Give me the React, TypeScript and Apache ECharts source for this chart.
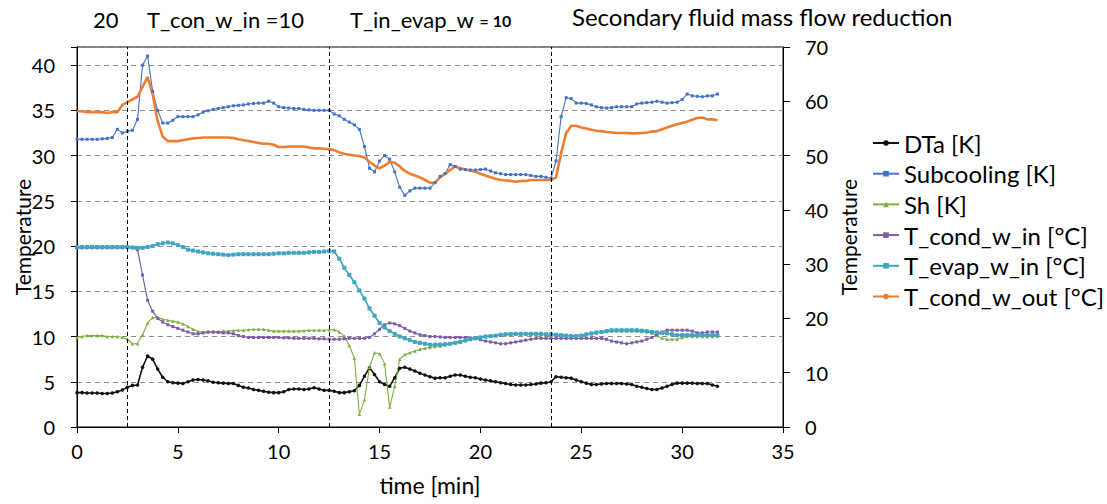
import React, { useEffect, useRef } from "react";
import * as echarts from "echarts";

// sampling grid (minutes)
const TIME: number[] = Array.from({ length: 128 }, (_, i) => i * 0.25);

const X_TICKS = [0, 5, 10, 15, 20, 25, 30, 35];
const STEP_TIMES = [2.5, 12.5, 23.5];

const SERIES_NAMES = [
  "DTa [K]",
  "Subcooling [K]",
  "Sh [K]",
  "T_cond_w_in [°C]",
  "T_evap_w_in [°C]",
  "T_cond_w_out [°C]",
];

const DTA = [
  3.8, 3.8, 3.75, 3.75, 3.75, 3.7, 3.7, 3.75,
  3.9, 4.1, 4.4, 4.6, 4.65, 6.6, 7.85, 7.5,
  6.4, 5.5, 5.0, 4.9, 4.85, 4.8, 5.0, 5.2,
  5.25, 5.2, 5.1, 4.95, 4.9, 4.85, 4.8, 4.8,
  4.6, 4.4, 4.3, 4.15, 4.05, 3.95, 3.85, 3.8,
  3.8, 3.9, 4.15, 4.2, 4.2, 4.15, 4.2, 4.35,
  4.2, 4.05, 4.05, 3.95, 3.8, 3.8, 3.9, 4.0,
  4.6, 5.6, 6.55, 5.8, 5.0, 4.7, 4.5, 5.45,
  6.5, 6.6, 6.4, 6.2, 5.95, 5.75, 5.55, 5.4,
  5.45, 5.45, 5.6, 5.75, 5.75, 5.6, 5.5, 5.45,
  5.3, 5.2, 5.1, 5.0, 4.9, 4.8, 4.7, 4.65,
  4.65, 4.65, 4.7, 4.75, 4.85, 4.9, 5.0, 5.55,
  5.5, 5.45, 5.4, 5.2, 5.0, 4.85, 4.7, 4.7,
  4.75, 4.8, 4.8, 4.8, 4.8, 4.75, 4.7, 4.5,
  4.4, 4.25, 4.15, 4.15, 4.3, 4.5, 4.7, 4.85,
  4.85, 4.85, 4.85, 4.8, 4.8, 4.8, 4.65, 4.5,
];

const SUBCOOLING = [
  31.8, 31.8, 31.8, 31.8, 31.8, 31.85, 31.9, 32.0,
  32.9, 32.5, 32.7, 32.8, 34.0, 40.0, 41.0, 37.1,
  35.0, 33.6, 33.6, 33.9, 34.3, 34.3, 34.3, 34.3,
  34.5, 34.8, 34.95, 35.1, 35.2, 35.3, 35.4, 35.5,
  35.55, 35.6, 35.7, 35.75, 35.8, 35.8, 36.0, 35.8,
  35.4, 35.3, 35.25, 35.2, 35.2, 35.1, 35.05, 35.0,
  35.0, 35.0, 35.0, 34.6, 34.4, 34.0, 33.7, 33.4,
  32.9, 31.0, 28.6, 28.2, 29.4, 30.0, 29.6, 28.2,
  26.5, 25.6, 26.1, 26.4, 26.4, 26.4, 26.4, 27.0,
  27.7, 28.0, 29.0, 28.8, 28.5, 28.45, 28.4, 28.4,
  28.45, 28.5, 28.3, 28.1, 28.0, 27.9, 27.9, 27.9,
  27.9, 27.9, 27.8, 27.7, 27.7, 27.6, 27.5, 29.4,
  34.3, 36.4, 36.3, 35.8, 35.8, 35.75, 35.6, 35.4,
  35.3, 35.25, 35.3, 35.4, 35.4, 35.4, 35.4, 35.7,
  35.8, 35.85, 35.9, 36.0, 35.9, 35.8, 35.85, 35.9,
  36.2, 36.8, 36.6, 36.55, 36.5, 36.6, 36.6, 36.8,
];

const SH = [
  9.9, 10.0, 10.1, 10.1, 10.1, 10.1, 10.0, 10.0,
  10.0, 9.9, 9.7, 9.2, 9.2, 10.2, 11.5, 12.1,
  12.1, 11.9, 11.8, 11.7, 11.6, 11.4, 11.1, 10.8,
  10.55, 10.5, 10.5, 10.5, 10.55, 10.6, 10.6, 10.65,
  10.7, 10.7, 10.75, 10.8, 10.8, 10.8, 10.7, 10.6,
  10.6, 10.6, 10.6, 10.6, 10.6, 10.65, 10.7, 10.7,
  10.7, 10.7, 10.75, 10.75, 10.5, 10.05, 9.0, 7.6,
  1.4, 3.0, 6.6, 8.2, 8.1, 7.0, 2.2, 4.5,
  7.5, 8.0, 8.2, 8.4, 8.6, 8.7, 8.8, 8.9,
  8.95, 9.1, 9.2, 9.35, 9.5, 9.6, 9.75, 9.85,
  9.95, 10.0, 10.05, 10.1, 10.15, 10.2, 10.2, 10.25,
  10.25, 10.25, 10.25, 10.2, 10.2, 10.15, 10.15, 10.15,
  10.15, 10.1, 10.1, 10.1, 10.15, 10.2, 10.3, 10.4,
  10.5, 10.55, 10.6, 10.6, 10.6, 10.6, 10.6, 10.6,
  10.55, 10.5, 10.4, 10.1, 9.8, 9.7, 9.7, 9.7,
  9.9, 10.0, 10.0, 10.0, 10.0, 10.0, 10.0, 10.05,
];

const T_COND_W_IN = [
  19.8, 19.8, 19.8, 19.8, 19.8, 19.8, 19.8, 19.8,
  19.8, 19.8, 19.8, 19.8, 19.6, 16.8, 14.0, 12.8,
  12.0, 11.6, 11.3, 11.1, 10.9, 10.7, 10.5, 10.3,
  10.3, 10.4, 10.5, 10.5, 10.45, 10.4, 10.4, 10.3,
  10.1, 10.0, 9.9, 9.9, 9.9, 9.9, 9.9, 9.9,
  9.9, 9.85, 9.85, 9.8, 9.8, 9.8, 9.8, 9.8,
  9.75, 9.75, 9.7, 9.7, 9.7, 9.75, 9.8, 9.8,
  9.8, 9.8, 9.9, 10.3, 10.8, 11.3, 11.5, 11.4,
  11.2, 10.9, 10.6, 10.4, 10.2, 10.1, 10.0, 10.0,
  9.95, 9.9, 9.9, 9.9, 9.9, 9.9, 9.85, 9.8,
  9.65, 9.5, 9.4, 9.3, 9.2, 9.2, 9.3, 9.4,
  9.5, 9.6, 9.7, 9.8, 9.8, 9.8, 9.8, 9.8,
  9.8, 9.8, 9.8, 9.8, 9.8, 9.8, 9.8, 9.8,
  9.8, 9.7, 9.5, 9.4, 9.3, 9.2, 9.3, 9.4,
  9.5, 9.7, 9.9, 10.2, 10.5, 10.7, 10.7, 10.7,
  10.7, 10.7, 10.6, 10.4, 10.4, 10.5, 10.5, 10.5,
];

const T_EVAP_W_IN = [
  19.9, 19.9, 19.9, 19.9, 19.9, 19.9, 19.9, 19.9,
  19.9, 19.9, 19.9, 19.85, 19.8, 19.8, 19.9, 20.0,
  20.2, 20.3, 20.4, 20.3, 20.1, 19.9, 19.6, 19.5,
  19.4, 19.3, 19.2, 19.15, 19.1, 19.05, 19.0, 19.05,
  19.1, 19.1, 19.1, 19.1, 19.1, 19.1, 19.1, 19.15,
  19.2, 19.2, 19.25, 19.25, 19.25, 19.25, 19.3, 19.35,
  19.35, 19.4, 19.45, 19.4, 18.6, 17.6, 16.8, 16.0,
  15.1, 14.2, 13.1, 12.3, 11.5, 11.0, 10.6, 10.3,
  10.0, 9.8, 9.6, 9.4, 9.3, 9.2, 9.1, 9.1,
  9.1, 9.15, 9.2, 9.3, 9.4, 9.55, 9.7, 9.8,
  9.9, 10.0, 10.05, 10.1, 10.2, 10.25, 10.3, 10.3,
  10.3, 10.3, 10.3, 10.3, 10.3, 10.25, 10.25, 10.2,
  10.15, 10.1, 10.05, 10.05, 10.1, 10.25, 10.35, 10.45,
  10.5, 10.6, 10.7, 10.7, 10.7, 10.7, 10.7, 10.7,
  10.65, 10.6, 10.5, 10.45, 10.4, 10.35, 10.25, 10.15,
  10.15, 10.15, 10.15, 10.15, 10.15, 10.15, 10.15, 10.15,
];

const T_COND_W_OUT = [
  34.9, 34.9, 34.8, 34.8, 34.8, 34.8, 34.7, 34.8,
  34.8, 35.6, 35.9, 36.2, 36.5, 37.6, 38.7, 36.8,
  33.8, 32.1, 31.6, 31.6, 31.6, 31.7, 31.8, 31.9,
  31.95, 32.0, 32.0, 32.0, 32.0, 32.0, 32.0, 31.95,
  31.8, 31.7, 31.6, 31.5, 31.4, 31.3, 31.3, 31.2,
  30.95, 30.95, 31.0, 31.0, 31.0, 31.0, 30.9, 30.8,
  30.8, 30.75, 30.7, 30.6, 30.35, 30.2, 30.1, 30.0,
  29.95, 29.8, 29.3, 28.9, 28.6, 28.9, 29.3, 29.2,
  28.8, 28.3, 28.0, 27.8, 27.6, 27.3, 27.0, 27.0,
  27.6, 28.0, 28.4, 28.8, 28.6, 28.45, 28.35, 28.2,
  28.0, 27.8, 27.6, 27.45, 27.3, 27.25, 27.2, 27.1,
  27.2, 27.2, 27.3, 27.3, 27.3, 27.3, 27.3, 27.6,
  30.3, 32.5, 33.3, 33.3, 33.1, 33.0, 32.85, 32.75,
  32.7, 32.6, 32.55, 32.5, 32.5, 32.5, 32.45, 32.45,
  32.5, 32.55, 32.65, 32.7, 32.9, 33.1, 33.3, 33.45,
  33.6, 33.75, 33.95, 34.15, 34.2, 34.0, 34.0, 33.9,
];

const FONT = "Lato, 'Open Sans', sans-serif";

export default function App() {
  const ref = useRef<HTMLDivElement>(null);

  useEffect(() => {
    if (!ref.current) return;
    const chart = echarts.init(ref.current, null, { renderer: "svg" });

    const pts = (arr: number[]) => TIME.map((t, i) => [t, arr[i]]);

    const base = (name: string, arr: number[], color: string, width: number, symbol: string, size: number) => ({
      name,
      type: "line",
      data: pts(arr),
      showSymbol: symbol !== "none",
      showAllSymbol: true,
      symbol,
      symbolSize: size,
      itemStyle: { color },
      lineStyle: { color, width },
      emphasis: { disabled: true },
      z: 3,
    });

    const option: any = {
      animation: false,
      textStyle: { fontFamily: FONT },
      grid: {
        left: 77,
        right: 324,
        top: 47,
        bottom: 77,
        outerBoundsMode: "none",
        containLabel: false,
        show: true,
        borderColor: "#000",
        borderWidth: 1,
        backgroundColor: "transparent",
      },
      legend: {
        orient: "vertical",
        left: 867,
        top: 126,
        itemWidth: 26,
        itemHeight: 7,
        itemGap: 6.7,
        textStyle: { fontFamily: FONT, fontSize: 24, color: "#000", lineHeight: 24 },
        data: SERIES_NAMES,
      },
      xAxis: {
        type: "value",
        min: 0,
        max: 35,
        interval: 5,
        name: "time [min]",
        nameLocation: "middle",
        nameGap: 46,
        nameMoveOverlap: false,
        nameTextStyle: { fontFamily: FONT, fontSize: 23, color: "#000" },
        axisLine: { show: true, lineStyle: { color: "#000", width: 1 } },
        axisTick: { show: true, inside: false, length: 6, lineStyle: { color: "#000" } },
        axisLabel: { fontFamily: FONT, fontSize: 20, color: "#000", margin: 14 },
        splitLine: { show: false },
        data: X_TICKS,
      },
      yAxis: [
        {
          type: "value",
          min: 0,
          max: 42,
          interval: 5,
          position: "left",
          name: "Temperature",
          nameLocation: "middle",
          nameGap: 44,
          nameMoveOverlap: false,
          nameTextStyle: { fontFamily: FONT, fontSize: 21, color: "#000" },
          axisLine: { show: true, lineStyle: { color: "#000", width: 1 } },
          axisTick: { show: true, inside: false, length: 6, lineStyle: { color: "#000" } },
          axisLabel: {
            fontFamily: FONT,
            fontSize: 20,
            color: "#000",
            margin: 22,
            formatter: (v: number) => (v > 40 ? "" : String(v)),
          },
          splitLine: { show: true, lineStyle: { color: "#8c8c8c", type: [5, 4], width: 1 } },
        },
        {
          type: "value",
          min: 0,
          max: 70,
          interval: 10,
          position: "right",
          name: "Temperature",
          nameLocation: "middle",
          nameGap: 55,
          nameRotate: 90,
          nameMoveOverlap: false,
          nameTextStyle: { fontFamily: FONT, fontSize: 21, color: "#000" },
          axisLine: { show: true, lineStyle: { color: "#000", width: 1 } },
          axisTick: { show: true, inside: false, length: 7, lineStyle: { color: "#000" } },
          axisLabel: { fontFamily: FONT, fontSize: 20, color: "#000", margin: 22 },
          splitLine: { show: false },
        },
      ],
      series: [
        {
          ...base(SERIES_NAMES[0], DTA, "#111111", 1.6, "circle", 3.5),
          markLine: {
            silent: true,
            symbol: "none",
            label: { show: false },
            lineStyle: { color: "#000", type: [4, 3], width: 1 },
            data: STEP_TIMES.map((t) => ({ xAxis: t })),
          },
        },
        base(SERIES_NAMES[1], SUBCOOLING, "#4472C4", 1.1, "rect", 3),
        base(SERIES_NAMES[2], SH, "#7FAE45", 1.1, "triangle", 3.5),
        base(SERIES_NAMES[3], T_COND_W_IN, "#7E5BA6", 1.2, "rect", 3),
        base(SERIES_NAMES[4], T_EVAP_W_IN, "#3FA5C0", 1.6, "rect", 4),
        base(SERIES_NAMES[5], T_COND_W_OUT, "#ED7D31", 2.6, "none", 0),
      ],
      graphic: [
        { type: "text", left: 93, top: 8, style: { text: "20", font: `22px ${FONT}`, fill: "#000" } },
        { type: "text", left: 147, top: 8, style: { text: "T_con_w_in =10", font: `22px ${FONT}`, fill: "#000" } },
        {
          type: "text",
          left: 350,
          top: 8,
          style: {
            text: "{a|T_in_evap_w }{b|= 10}",
            fill: "#000",
            rich: {
              a: { fontFamily: FONT, fontSize: 22, fill: "#000" },
              b: { fontFamily: FONT, fontSize: 16, fontWeight: "bold", fill: "#000", padding: [3, 0, 0, 0] },
            },
          },
        },
        {
          type: "text",
          left: 572,
          top: 4,
          style: { text: "Secondary fluid mass flow reduction", font: `24px ${FONT}`, fill: "#000" },
        },
      ],
    };

    chart.setOption(option);
    return () => chart.dispose();
  }, []);

  return (
    <div
      ref={ref}
      style={{ position: "absolute", left: 0, top: 0, width: 1107, height: 504, background: "#fff" }}
    />
  );
}
